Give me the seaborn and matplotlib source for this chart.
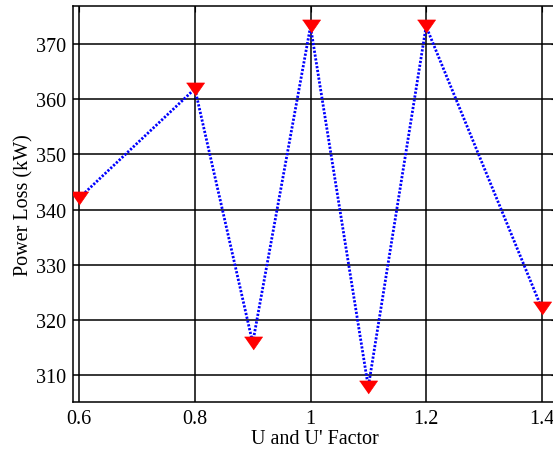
import numpy as np
import pandas as pd
import matplotlib
matplotlib.use("Agg")
import matplotlib.pyplot as plt
import seaborn as sns

factor = [0.6, 0.8, 0.9, 1.0, 1.1, 1.2, 1.4]
power_loss = [342.1, 361.9, 315.8, 373.2, 307.8, 373.2, 322.1]
x_ticks = [0.6, 0.8, 1.0, 1.2, 1.4]
x_tick_labels = ["0.6", "0.8", "1", "1.2", "1.4"]
y_ticks = [310, 320, 330, 340, 350, 360, 370]

sns.set_style("white")
plt.rcParams['font.family'] = ['Liberation Serif', 'DejaVu Serif']
plt.rcParams['text.color'] = 'black'
plt.rcParams['axes.labelcolor'] = 'black'

W, H = 553, 456
fig = plt.figure(figsize=(W / 100, H / 100), dpi=100)
left_px, right_px, top_px, bottom_px = 73, 557, 7, 402.7
ax = fig.add_axes([left_px / W, 1 - bottom_px / H,
                   (right_px - left_px) / W, (bottom_px - top_px) / H])

df = pd.DataFrame({"factor": factor, "loss": power_loss})
tri = [(-1, 0.72), (1, 0.72), (0, -0.72)]
sns.lineplot(data=df, x="factor", y="loss", ax=ax, color=(0, 0, 1),
             linestyle=(0, (0.8, 0.6)), linewidth=2.0,
             marker=tri, markersize=13, markerfacecolor='red',
             markeredgecolor='red', markeredgewidth=0.5, zorder=3)

scale = 578.0  # px per unit
x0 = 0.6 - (79.3 - left_px) / scale
x1 = x0 + (right_px - left_px) / scale
ax.set_xlim(x0, x1)
ax.set_ylim(305.15, 376.9)
ax.set_xticks(x_ticks)
ax.set_xticklabels(x_tick_labels)
ax.set_yticks(y_ticks)
ax.grid(True, color='black', linewidth=1.1, linestyle='-')
ax.set_axisbelow(True)
for s in ax.spines.values():
    s.set_color('black')
    s.set_linewidth(1.1)
ax.tick_params(direction='in', length=4, width=0.8, colors='black',
               labelcolor='black', labelsize=14.5, top=True, right=True, pad=5)
ax.set_xlabel("U and U' Factor", fontsize=14.5, labelpad=1, color='black')
ax.set_ylabel("Power Loss (kW)", fontsize=14.5, labelpad=2, color='black')

fig.savefig("out.png", dpi=100, facecolor='white')
